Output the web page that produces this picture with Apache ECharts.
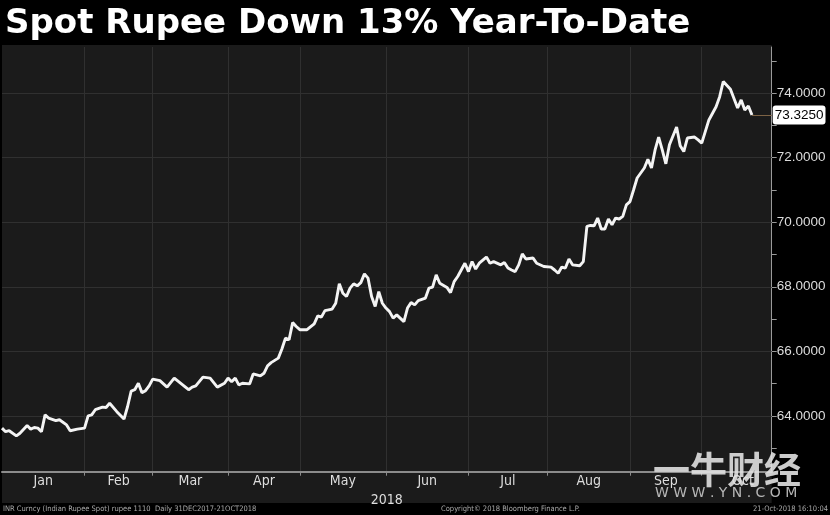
<!DOCTYPE html>
<html><head><meta charset="utf-8">
<script src="https://cdn.jsdelivr.net/npm/echarts@6/dist/echarts.min.js"></script>
<style>html,body{margin:0;padding:0;background:#000;}#c{width:830px;height:515px;}</style>
</head><body><div id="c"></div>
<script>
const titleText = 'Spot Rupee Down 13% Year-To-Date';
const yearLabel = '2018';
const monthNames = ['Jan','Feb','Mar','Apr','May','Jun','Jul','Aug','Sep','Oct'];
// trading-day index at which each month begins (last entry = start of Nov)
const monthStartDay = [0,23,42,63,83,107,130,152,175,195,218];
const yMajorTicks = [64,66,68,70,72,74];
const yMinorTicks = [63,64,65,66,67,68,69,70,71,72,73,74,75];
const footerLeft = 'INR Curncy (Indian Rupee Spot) rupee 1110  Daily 31DEC2017-21OCT2018';
const footerMid = 'Copyright\u00a9 2018 Bloomberg Finance L.P.';
const footerRight = '21-Oct-2018 16:10:04';
const watermarkCn = '一牛财经';
const watermarkUrl = 'WWW.YN.COM';

// trading day index (0 = 1 Jan 2018) and USD/INR spot value
const tradingDay = [0,1,2,4,5,7,8,9,10,11,12,13,15,16,18,19,21,23,24,25,26,28,29,30,32,34,35,36,37,38,39,40,41,42,44,46,48,50,52,53,54,
56,58,59,60,62,63,64,65,66,67,69,70,72,73,74,75,77,78,79,80,81,82,83,85,87,88,89,90,92,93,94,95,96,97,98,99,100,101,102,103,104,105,106,107,108,109,
110,112,113,114,115,116,118,119,120,121,122,124,125,126,127,129,130,131,132,133,135,136,137,139,140,141,142,143,144,145,146,148,149,151,153,154,155,156,157,158,159,161,162,
163,164,165,166,167,168,169,170,171,172,173,174,175,176,177,179,180,181,182,183,184,185,186,188,189,190,191,193,194,195,197,199,200,201,203,205,206,207,208,209];
const usdInr = [63.62,63.51,63.54,63.38,63.46,63.70,63.59,63.64,63.62,63.51,64.03,63.93,63.85,63.88,63.72,63.54,63.59,63.62,64.00,64.03,64.19,64.27,64.26,64.39,64.13,63.90,64.29,64.77,64.81,65.01,64.72,64.78,64.93,65.14,65.09,64.89,65.17,64.99,64.81,64.89,64.93,
65.20,65.17,65.03,64.89,65.01,65.17,65.06,65.17,64.96,65.01,64.99,65.30,65.24,65.32,65.55,65.65,65.79,66.07,66.41,66.36,66.89,66.77,66.67,66.67,66.85,67.10,67.06,67.26,67.31,67.49,68.09,67.80,67.70,67.96,68.09,68.03,68.13,68.40,68.27,67.70,67.39,67.85,67.49,67.34,67.23,67.03,
67.13,66.92,67.34,67.51,67.44,67.57,67.65,67.96,67.99,68.37,68.11,67.98,67.82,68.16,68.32,68.73,68.47,68.78,68.55,68.73,68.92,68.73,68.78,68.68,68.75,68.58,68.52,68.47,68.68,69.02,68.86,68.89,68.73,68.63,68.61,68.52,68.42,68.61,68.58,68.86,68.68,68.65,68.78,
69.87,69.90,69.89,70.13,69.79,69.79,70.10,69.92,70.13,70.10,70.18,70.54,70.64,71.00,71.37,71.68,71.95,71.68,72.24,72.64,72.24,71.81,72.40,72.95,72.37,72.19,72.61,72.64,72.55,72.45,73.17,73.58,73.89,74.36,74.12,73.54,73.79,73.48,73.60,73.325];

const xMin = 0, xMax = 214.5;
const yMin = 62.27, yMax = 75.43;

const monthMid = monthNames.map((m, i) => (monthStartDay[i] + monthStartDay[i + 1]) / 2);
const lastDay = tradingDay[tradingDay.length - 1];
const lastVal = usdInr[usdInr.length - 1];

const chart = echarts.init(document.getElementById('c'), null, {renderer: 'canvas'});
const labelFont = "'Liberation Sans Narrow','DejaVu Sans Condensed','Liberation Sans',sans-serif";

chart.setOption({
  backgroundColor: '#000',
  animation: false,
  grid: {left: 2, right: 58.3, top: 47, bottom: 43.3, containLabel: false},
  graphic: [
    {type: 'rect', z: -10, shape: {x: 2, y: 45, width: 769.7, height: 458}, style: {fill: '#1b1b1b'}},
    {type: 'text', left: 5, top: 7, z: 10, style: {text: titleText, fill: '#ffffff', font: "bold 34px 'DejaVu Sans'"}},
    {type: 'text', left: 3, top: 505, z: 10, style: {text: footerLeft, fill: '#a9a9a9', font: "7.5px " + labelFont}},
    {type: 'text', left: 441, top: 505, z: 10, style: {text: footerMid, fill: '#a9a9a9', font: "7.5px " + labelFont}},
    {type: 'text', right: 2, top: 505, z: 10, style: {text: footerRight, fill: '#a9a9a9', font: "7.5px " + labelFont}},
    {type: 'text', left: 653, top: 451, z: 20, style: {text: watermarkCn, fill: 'rgba(225,225,225,0.9)', font: "bold 37px 'Noto Sans CJK SC'"}},
    {type: 'text', left: 655, top: 486, z: 20, style: {text: watermarkUrl.split('').join(' '), fill: 'rgba(200,200,200,0.9)', font: "14px 'DejaVu Sans'"}}
  ],
  xAxis: {
    type: 'value', min: xMin, max: xMax, position: 'bottom',
    axisLine: {show: true, onZero: false, lineStyle: {color: '#8c8c8c', width: 2}},
    axisTick: {show: true, customValues: monthStartDay.slice(1, 10), length: 4, lineStyle: {color: '#8c8c8c'}},
    splitLine: {show: true, lineStyle: {color: '#303030', width: 1}},
    axisLabel: {
      customValues: monthMid, color: '#dedede', fontSize: 14, fontFamily: labelFont, margin: 3,
      formatter: v => monthNames[monthMid.indexOf(v)] || ''
    },
    name: yearLabel, nameLocation: 'middle', nameGap: 17,
    nameTextStyle: {color: '#dedede', fontSize: 14, fontFamily: labelFont}
  },
  yAxis: {
    type: 'value', min: yMin, max: yMax, position: 'right',
    axisLine: {show: true, onZero: false, lineStyle: {color: '#9a9a9a', width: 1}},
    axisTick: {show: true, inside: false, customValues: yMinorTicks, length: 5, lineStyle: {color: '#9a9a9a'}},
    axisLabel: {customValues: yMajorTicks, color: '#dcdcdc', fontSize: 13.5, fontFamily: "'Liberation Sans',sans-serif", margin: 5, formatter: v => v.toFixed(4)},
    splitLine: {show: false}
  },
  series: [
    {
      // horizontal grid lines at the labelled values
      type: 'line', data: [], z: 1, silent: true,
      markLine: {
        silent: true, symbol: 'none', animation: false, label: {show: false},
        lineStyle: {color: '#303030', width: 1, type: 'solid'},
        data: yMajorTicks.map(v => ({yAxis: v}))
      }
    },
    {
      type: 'line',
      data: tradingDay.map((d, i) => [d, usdInr[i]]),
      showSymbol: false, symbol: 'none',
      lineStyle: {color: '#f4f4f4', width: 2.9},
      z: 5,
      markLine: {
        silent: true, symbol: 'none', animation: false,
        lineStyle: {color: '#7d6345', width: 1, type: 'solid'},
        label: {show: true, position: 'end', formatter: lastVal.toFixed(4), backgroundColor: '#ffffff', color: '#000', borderRadius: 3,
                padding: [3, 2, 2, 2], fontSize: 13.5, fontFamily: "'Liberation Sans',sans-serif", distance: 1},
        data: [[{coord: [lastDay, lastVal]}, {coord: [xMax, lastVal]}]]
      }
    }
  ]
});
</script></body></html>
